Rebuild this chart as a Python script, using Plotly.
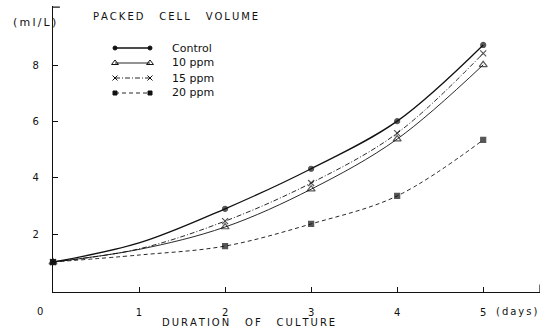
import plotly.graph_objects as go

days = [0, 1, 2, 3, 4, 5]
control = [1.0, 1.68, 2.9, 4.33, 6.03, 8.75]
ppm10 = [1.0, 1.45, 2.25, 3.6, 5.39, 8.04]
ppm15 = [1.0, 1.47, 2.46, 3.82, 5.6, 8.45]
ppm20 = [1.0, 1.25, 1.57, 2.36, 3.36, 5.36]
series_names = ["Control", "10 ppm", "15 ppm", "20 ppm"]
y_tick_vals = [2, 4, 6, 8]
x_tick_vals = [1, 2, 3, 4, 5]

FONT = "DejaVu Sans"
INK = "#111111"

# plot area in pixels
L, R, T, B = 53, 540, 6, 292


def px(x):
    return (x - L) / (R - L)


def py(y):
    return (B - y) / (B - T)


def spaced(text, gap="&nbsp;&nbsp;&nbsp;"):
    words = text.split(" ")
    return gap.join("\u2009".join(w) for w in words)


styles = [
    dict(dash="solid", symbol="circle", size=5, width=1.3),
    dict(dash="solid", symbol="triangle-up-open", size=7, width=0.9),
    dict(dash="5px,2px,1px,2px", symbol="x-thin", size=6, width=0.9),
    dict(dash="4px,3px", symbol="square", size=5, width=0.9),
]
marker_sizes_mask = [1, 0, 1, 1, 1, 1]  # no marker shown at day 1

fig = go.Figure()
for name, vals, st in zip(series_names, [control, ppm10, ppm15, ppm20], styles):
    fig.add_trace(go.Scatter(
        x=days, y=vals, mode="lines+markers", name=name,
        line=dict(color=INK, width=st["width"], dash=st["dash"], shape="spline", smoothing=1.0),
        marker=dict(symbol=st["symbol"], size=[st["size"] * m for m in marker_sizes_mask],
                    color=INK, line=dict(color=INK, width=1.2)),
        xaxis="x", yaxis="y", showlegend=False, cliponaxis=False,
    ))

# manual legend (pixel-coordinate overlay axes)
leg_y = [48, 63, 78, 93]
for name, st, ly in zip(series_names, styles, leg_y):
    fig.add_trace(go.Scatter(
        x=[115, 150], y=[ly, ly], mode="lines+markers",
        line=dict(color=INK, width=st["width"], dash=st["dash"]),
        marker=dict(symbol=st["symbol"], size=st["size"] - 1, color=INK, line=dict(color=INK, width=1)),
        xaxis="x2", yaxis="y2", showlegend=False, hoverinfo="skip", cliponaxis=False,
    ))


def ann(x, y, text, anchor="left", size=10):
    return dict(x=px(x), y=py(y), xref="paper", yref="paper", text=text, showarrow=False,
                xanchor=anchor, yanchor="middle", font=dict(family=FONT, size=size, color=INK))


annotations = [ann(170, ly, name, size=11) for name, ly in zip(series_names, leg_y)]
annotations += [
    ann(91, 17, spaced("PACKED CELL VOLUME", "&nbsp;&nbsp;&nbsp;&nbsp;&nbsp;")),
    ann(58, 22, spaced("(ml/L)"), "right", size=11),
    ann(40, 311, "0", "center"),
    ann(494, 311, spaced("(days)")),
    ann(248, 322, spaced("DURATION OF CULTURE", "&nbsp;&nbsp;&nbsp;&nbsp;&nbsp;"), "center"),
]

fig.update_layout(
    width=553, height=333,
    margin=dict(l=L, r=553 - R, t=T, b=333 - B),
    paper_bgcolor="white", plot_bgcolor="rgba(0,0,0,0)",
    font=dict(family=FONT, size=10, color=INK),
    xaxis=dict(range=[0, 5.66], tickvals=x_tick_vals, ticks="inside", ticklen=5, tickcolor=INK,
               showline=True, linecolor=INK, linewidth=1.2, showgrid=False, zeroline=False,
               ticklabelstandoff=11, tickfont=dict(family=FONT, size=10, color=INK), fixedrange=True),
    yaxis=dict(range=[-0.07, 10.14], tickvals=y_tick_vals, ticks="inside", ticklen=5, tickcolor=INK,
               showline=True, linecolor=INK, linewidth=1.2, showgrid=False, zeroline=False,
               ticklabelstandoff=11, tickfont=dict(family=FONT, size=10, color=INK), fixedrange=True),
    xaxis2=dict(range=[L, R], domain=[0, 1], anchor="y2", visible=False, fixedrange=True),
    yaxis2=dict(range=[B, T], domain=[0, 1], anchor="x2", visible=False, fixedrange=True),
    annotations=annotations,
    shapes=[
        dict(type="line", xref="x", yref="y", x0=0, x1=0.08, y0=10.1, y1=10.1, line=dict(color=INK, width=1.2)),
        dict(type="line", xref="x", yref="y", x0=5.66, x1=5.66, y0=-0.07, y1=0.2, line=dict(color=INK, width=1.2)),
    ],
)

fig.write_html("out.html")
